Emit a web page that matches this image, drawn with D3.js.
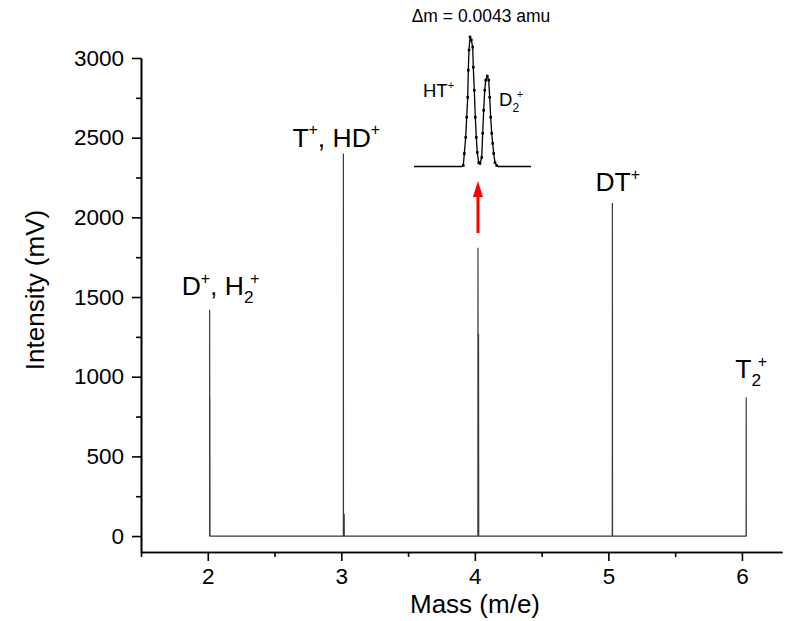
<!DOCTYPE html>
<html><head><meta charset="utf-8">
<script src="https://cdn.jsdelivr.net/npm/d3@7"></script>
<style>body{margin:0;background:#fff;} text{font-family:"Liberation Sans",Arial,sans-serif;fill:#000;}</style>
</head><body><svg id="c" width="804" height="621"></svg>
<script>
// ---------- data ----------
const xTicks = [2, 3, 4, 5, 6];
const xMinorTicks = [1.5, 2.5, 3.5, 4.5, 5.5];
const yTicks = [0, 500, 1000, 1500, 2000, 2500, 3000];
const yMinorTicks = [250, 750, 1250, 1750, 2250, 2750];

// main spectrum trace (mass in amu, intensity in mV)
const spectrumMass = [2.0139, 2.0141, 2.0149, 2.0157, 2.0165,
                      3.0150, 3.0155, 3.0160, 3.0205, 3.0214, 3.0222,
                      4.0225, 4.0233, 4.0250, 4.0276, 4.0290,
                      5.0290, 5.0300, 5.0310,
                      6.0311, 6.0321, 6.0323];
const spectrumIntensity = [0, 1420, 0, 870, 0,
                           0, 2400, 0, 0, 140, 0,
                           0, 1810, 0, 1270, 0,
                           0, 2090, 0,
                           0, 870, 0];

// inset: high-resolution scan of the mass-4 doublet (relative intensity)
const insetMass = [4.00920, 4.02120, 4.02167, 4.02193, 4.02228, 4.02253, 4.02279, 4.02294, 4.02312, 4.02337,
                   4.02370, 4.02405, 4.02420, 4.02446, 4.02471, 4.02496, 4.02521, 4.02557, 4.02590,
                   4.02633, 4.02658, 4.02683, 4.02709, 4.02734, 4.02774, 4.02810, 4.02835, 4.02860,
                   4.02886, 4.02911, 4.02936, 4.02969, 4.03012, 4.03050, 4.03880];
const insetIntensity = [0, 0, 0.008, 0.10, 0.225, 0.38, 0.535, 0.744, 0.899, 1.0,
                        0.977, 0.922, 0.767, 0.589, 0.38, 0.225, 0.109, 0.031, 0.023,
                        0.07, 0.256, 0.434, 0.589, 0.667, 0.698, 0.667, 0.535, 0.38,
                        0.256, 0.178, 0.101, 0.031, 0.008, 0, 0];

const peakLabels = [
  [["D",""],["+","sup"],[", H",""],["2","sub"],["+","sup"]],
  [["T",""],["+","sup"],[", HD",""],["+","sup"]],
  [["DT",""],["+","sup"]],
  [["T",""],["2","sub"],["+","sup"]]
];
const insetLabels = [
  [["HT",""],["+","sup"]],
  [["D",""],["2","sub"],["+","sup"]]
];
const insetTitle = "\u0394m = 0.0043 amu";
const xTitle = "Mass (m/e)";
const yTitle = "Intensity (mV)";

// ---------- drawing ----------
const svg = d3.select("#c");
const x = d3.scaleLinear().domain([1.5, 6.3]).range([141, 782]);
const y = d3.scaleLinear().domain([-100, 3000]).range([552, 58]);

// spectrum
const line = d3.line().x((d,i)=>x(spectrumMass[i])).y((d,i)=>y(spectrumIntensity[i]));
svg.append("path").attr("d", line(spectrumMass))
  .attr("fill","none").attr("stroke","#3a3a3a").attr("stroke-width",1.2);

// axes
function styleAxis(g){
  g.selectAll("path.domain").attr("stroke","#000").attr("stroke-width",1.6);
  g.selectAll(".tick line").attr("stroke","#000").attr("stroke-width",1.6);
  g.selectAll(".tick text").style("font-family",'"Liberation Sans",Arial,sans-serif').style("font-size","22.5px").attr("fill","#000");
}
svg.append("g").attr("transform","translate(0,552)")
  .call(d3.axisBottom(x).tickValues(xMinorTicks).tickSize(5).tickSizeOuter(0).tickFormat(""))
  .call(styleAxis);
svg.append("g").attr("transform","translate(0,552)")
  .call(d3.axisBottom(x).tickValues(xTicks).tickSize(9).tickPadding(7).tickSizeOuter(0).tickFormat(d3.format("d")))
  .call(styleAxis);
svg.append("g").attr("transform","translate(141,0)")
  .call(d3.axisLeft(y).tickValues(yMinorTicks).tickSize(5).tickSizeOuter(0).tickFormat(""))
  .call(styleAxis);
svg.append("g").attr("transform","translate(141,0)")
  .call(d3.axisLeft(y).tickValues(yTicks).tickSize(9).tickPadding(8).tickSizeOuter(0).tickFormat(d3.format("d")))
  .call(styleAxis);

// axis titles
svg.append("text").attr("x",475).attr("y",613).attr("text-anchor","middle")
  .style("font-size","26px").text(xTitle);
svg.append("text").attr("transform","translate(44,290) rotate(-90)").attr("text-anchor","middle")
  .style("font-size","26px").text(yTitle);

// rich label helper
function richText(parts, px, py, size){
  const t = svg.append("text").attr("x",px).attr("y",py).style("font-size",size+"px");
  let prev = "";
  parts.forEach(([s,kind])=>{
    const ts = t.append("tspan").text(s);
    if(kind==="sup"){ ts.attr("y", py - size*0.42).style("font-size",(size*0.6)+"px");
      if(prev==="sub") ts.attr("dx", -size*0.12); }
    else if(kind==="sub"){ ts.attr("y", py + size*0.3).style("font-size",(size*0.65)+"px"); }
    else ts.attr("y", py);
    prev = kind;
  });
  return t;
}
// peak label anchors relative to peak positions
const peakIdx = [1, 6, 17, 20];
const peakOffsets = [[-28,-15],[-51,-7],[-17,-12],[-11,-19]];
peakLabels.forEach((p,i)=>{
  const k = peakIdx[i];
  richText(p, x(spectrumMass[k]) + peakOffsets[i][0], y(spectrumIntensity[k]) + peakOffsets[i][1], 26.5);
});

// inset
const xi = d3.scaleLinear().domain([4.0092, 4.0388]).range([414, 531]);
const yi = d3.scaleLinear().domain([0, 1]).range([166.5, 37]);
const insetLine = d3.line().x((d,i)=>xi(insetMass[i])).y((d,i)=>yi(insetIntensity[i]));
svg.append("path").attr("d", insetLine(insetMass))
  .attr("fill","none").attr("stroke","#000").attr("stroke-width",1.3);
svg.append("g").selectAll("rect").data(insetMass.slice(2,-2)).join("rect")
  .attr("x",(d,i)=>xi(d)-1.3).attr("y",(d,i)=>yi(insetIntensity[i+2])-1.3)
  .attr("width",2.6).attr("height",2.6).attr("fill","#000");
svg.append("text").attr("x",481).attr("y",22).attr("text-anchor","middle")
  .style("font-size","17.5px").text(insetTitle);
richText(insetLabels[0], 423, 97, 18.5);
richText(insetLabels[1], 499, 106, 18.5);

// red arrow pointing at the mass-4 peak
const ax = x(4.0233);
svg.append("line").attr("x1",ax).attr("x2",ax).attr("y1",233).attr("y2",194)
  .attr("stroke","#f00").attr("stroke-width",3);
svg.append("path").attr("d",`M${ax},181 L${ax-5},197 L${ax+5},197 Z`).attr("fill","#f00");
</script></body></html>
